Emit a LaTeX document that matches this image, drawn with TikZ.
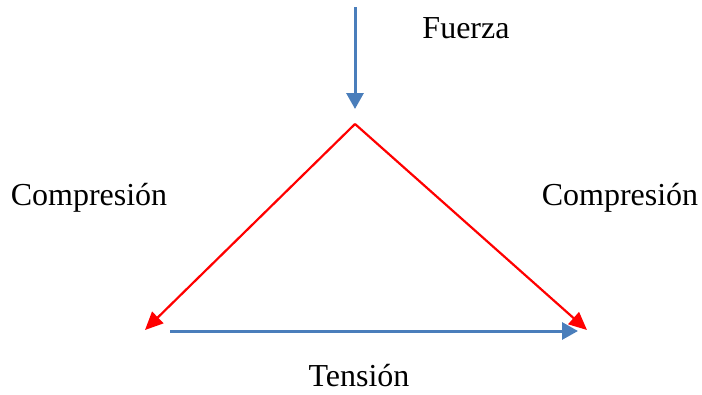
\documentclass[tikz,border=0pt]{standalone}
\usepackage{fontspec}
\setmainfont{Liberation Serif}
\usetikzlibrary{arrows.meta}
\definecolor{bluea}{RGB}{74,126,187}
\begin{document}
\begin{tikzpicture}[x=1pt,y=-1pt,
  lbl/.style={font=\fontsize{32}{38}\selectfont, inner sep=0pt},
  bluearrow/.style={draw=bluea, line width=3pt, -{Triangle[length=16pt,width=17pt]}},
  redarrow/.style={draw=red, line width=2.2pt, -{Triangle[length=18pt,width=16pt]}}]
\useasboundingbox (0,0) rectangle (702,394);
\coordinate (ftop) at (355,7);
\coordinate (apex) at (355,124);
\coordinate (ftip) at (355,109);
\coordinate (lt) at (145,330);
\coordinate (rt) at (587,330);
\coordinate (hs) at (170,331);
\coordinate (he) at (578,331);
\draw[bluearrow] (ftop) -- (ftip);
\draw[redarrow] (apex) -- (lt);
\draw[redarrow] (apex) -- (rt);
\draw[bluearrow] (hs) -- (he);
\node[lbl] (fuerza) at (466,28) {Fuerza};
\node[lbl] (cl) at (89,198) {Compresión};
\node[lbl] (cr) at (620,198) {Compresión};
\node[lbl, anchor=base] (ten) at (359,386) {Tensión};
\end{tikzpicture}
\end{document}
